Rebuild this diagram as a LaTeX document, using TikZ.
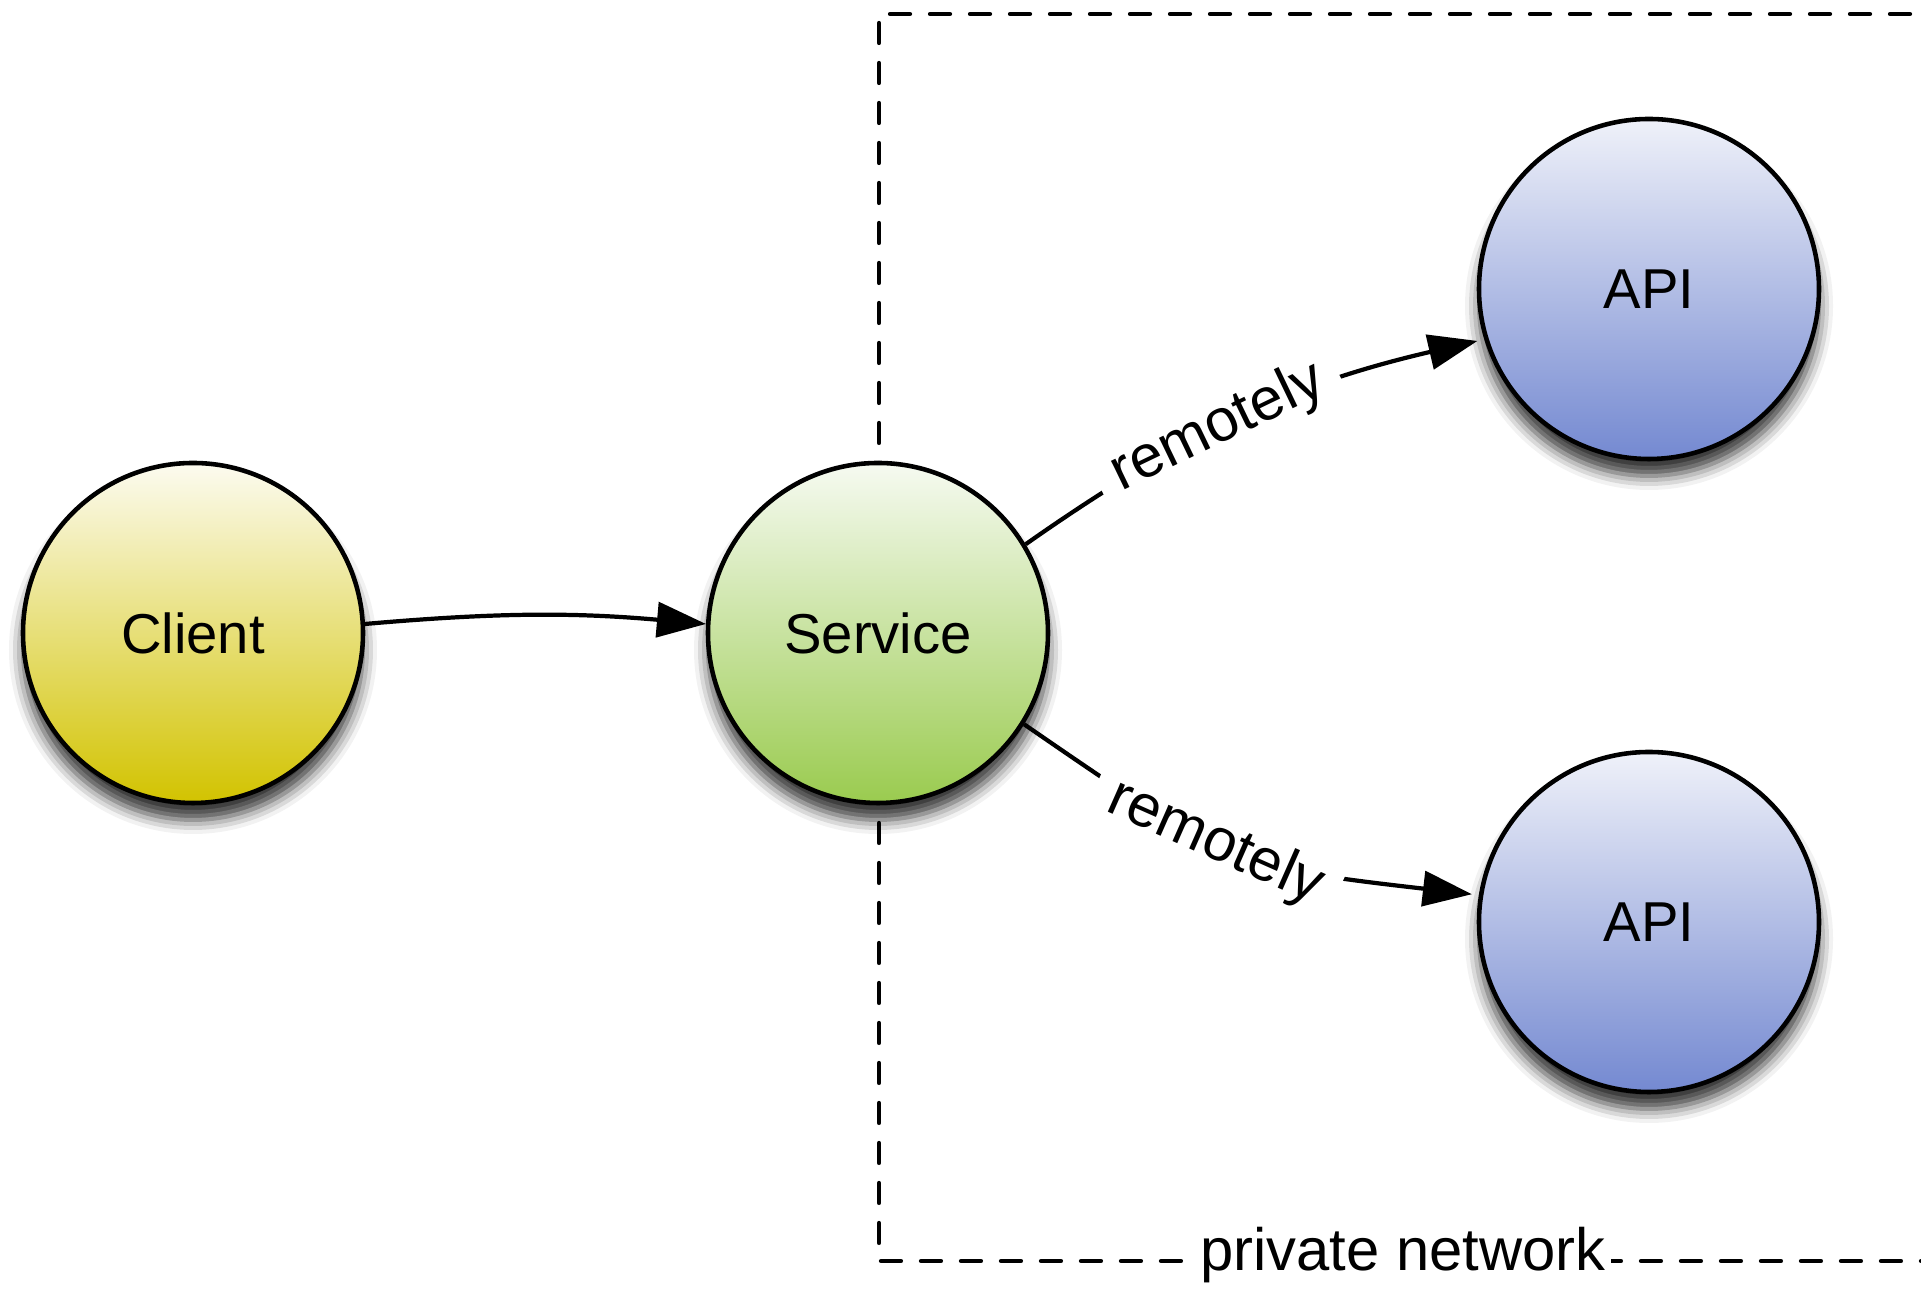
\documentclass[tikz,border=0pt]{standalone}
\usepackage{fontspec}
\setmainfont{Liberation Sans}
\usetikzlibrary{arrows.meta,shadows.blur}

\definecolor{clienttop}{RGB}{252,251,240}
\definecolor{clientmid}{RGB}{233,227,160}
\definecolor{clientbot}{RGB}{210,195,0}
\definecolor{servicetop}{RGB}{246,250,241}
\definecolor{servicemid}{RGB}{212,232,188}
\definecolor{servicebot}{RGB}{154,203,79}
\definecolor{apitop}{RGB}{239,241,249}
\definecolor{apimid}{RGB}{184,195,230}
\definecolor{apibot}{RGB}{116,137,209}

\begin{document}
\begin{tikzpicture}[
  ball/.style={circle,draw,line width=1.3pt,minimum size=3.4cm,inner sep=0pt,
    font=\fontsize{16}{19}\selectfont,
    blur shadow={shadow xshift=0pt,shadow yshift=-0.17cm,shadow blur radius=0.14cm,shadow opacity=80}},
  link/.style={line width=1.2pt,-{Triangle[length=0.49cm,width=0.35cm]}},
  lbl/.style={fill=white,sloped,inner sep=5pt,font=\fontsize{17}{20}\selectfont}]
\useasboundingbox (0,0) rectangle (19.21,12.93);
%\draw[gray,very thin](0,0) grid (19,12);
% private network box, open to the right
\draw[line width=1.2pt,dash pattern=on 0.2cm off 0.2cm,line cap=round]
  (19.5,12.79)--(8.79,12.79)--(8.79,0.32)--(19.5,0.32);
\node[fill=white,inner sep=1.5pt,anchor=mid,font=\fontsize{17}{20}\selectfont] (net) at (14.03,0.32) {private network};
% nodes
\node[ball,top color=clienttop,middle color=clientmid,bottom color=clientbot] (client) at (1.93,6.60) {Client};
\node[ball,top color=servicetop,middle color=servicemid,bottom color=servicebot] (service) at (8.78,6.60) {Service};
\node[ball,top color=apitop,middle color=apimid,bottom color=apibot] (apiup) at (16.49,10.04) {API};
\node[ball,top color=apitop,middle color=apimid,bottom color=apibot] (apidown) at (16.49,3.71) {API};
% calls
\draw[link] (client.3) to[bend left=5] (service.177);
\draw[link,shorten >=0.07cm] (service.31) to[bend left=11] node[lbl,pos=0.44] {remotely} (apiup.197);
\draw[link,shorten >=0.07cm] (service.-32) to[bend right=14,looseness=1.3] node[lbl,pos=0.44] {remotely} (apidown.171);
\end{tikzpicture}
\end{document}
